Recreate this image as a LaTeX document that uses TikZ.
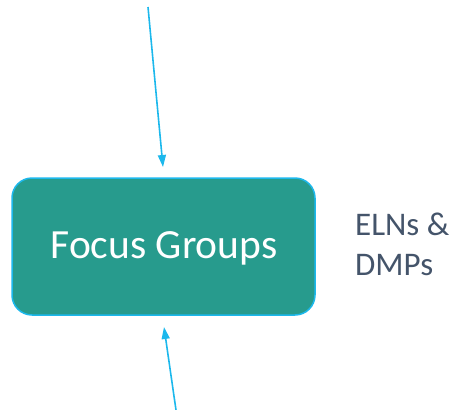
\documentclass[tikz,border=0pt]{standalone}
\usepackage{fontspec}
\setmainfont{Carlito}
\usetikzlibrary{arrows.meta}
\definecolor{boxfill}{HTML}{279B8D}
\definecolor{edgeblue}{HTML}{1CB8EC}
\definecolor{labelgray}{HTML}{44546A}
\tikzset{
  groupbox/.style={draw=edgeblue, line width=1.5pt, fill=boxfill, rounded corners=20pt},
  feed/.style={draw=edgeblue, line width=1.6pt, -{Triangle[length=12pt,width=8pt]}},
}
\begin{document}
\begin{tikzpicture}[x=1pt,y=-1pt]
\useasboundingbox (0,0) rectangle (456,410);
\draw[groupbox] (12,178) rectangle (315,315);
\node[font=\fontsize{41.5}{44}\selectfont, text=white, anchor=base] (fg) at (164,258) {Focus Groups};
\coordinate (boxtop) at (163,167);
\coordinate (boxbot) at (164,327);
\coordinate (srctop) at (148,7);
\coordinate (srcbot) at (176,410);
\draw[feed] (srctop) -- (boxtop);
\draw[feed] (srcbot) -- (boxbot);
% the base anchor of a two-line node sits on its last line
\node[font=\fontsize{33}{40}\selectfont, text=labelgray, anchor=base west, align=left, inner sep=0pt] (eln) at (355,275) {ELNs \&\\DMPs};
\end{tikzpicture}
\end{document}
